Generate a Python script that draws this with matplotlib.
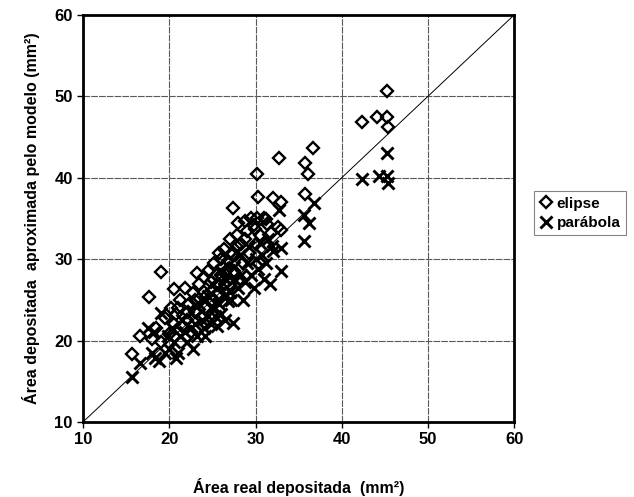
import numpy as np
import matplotlib.pyplot as plt

# Elipse model: (real area, modelled area) [mm^2]
elipse_x = [45.3, 42.3, 44.1, 45.3, 45.4, 36.7, 32.7, 35.7, 36.1, 30.2,
            30.3, 32.0, 32.9, 35.7, 27.4, 32.6, 33.0, 28.8, 30.2, 31.2,
            29.9, 19.0, 17.6, 16.6, 15.7, 23.2, 20.6,
            18.5, 19.5, 20.2, 20.8, 21.3, 21.8, 22.3, 22.0, 22.8, 23.5,
            24.0, 24.5, 24.8, 25.2, 25.5, 25.8, 26.0, 26.3, 26.8, 27.0,
            27.3, 27.8, 28.0, 28.3, 29.0, 29.5, 29.8, 30.5, 31.0, 31.3,
            31.8, 27.5, 26.5, 25.0, 24.2, 23.0, 21.5, 20.0, 19.0, 18.0,
            22.5, 23.8, 25.8, 27.0, 28.5, 29.2, 30.0, 26.2, 24.3, 22.2,
            20.5, 26.0, 27.8, 28.2, 25.5, 24.0, 23.0, 21.0, 26.8, 28.8]
elipse_y = [50.6, 46.9, 47.4, 47.5, 46.2, 43.6, 42.4, 41.8, 40.5, 40.4,
            37.6, 37.5, 37.0, 38.0, 36.3, 34.0, 33.6, 34.7, 35.1, 34.9,
            33.7, 28.4, 25.4, 20.5, 18.3, 28.3, 26.3,
            21.5, 22.8, 24.0, 23.2, 25.0, 26.5, 24.5, 22.5, 25.8, 27.0,
            26.0, 28.5, 27.2, 29.5, 26.8, 30.8, 28.0, 31.2, 29.8, 32.5,
            30.5, 33.0, 34.5, 31.8, 33.5, 35.0, 34.2, 33.0, 35.0, 34.3,
            33.2, 28.5, 27.0, 25.0, 24.0, 23.5, 21.8, 20.8, 19.8, 20.2,
            21.0, 22.8, 25.8, 27.0, 29.5, 30.8, 31.8, 29.0, 25.5, 23.5,
            22.0, 30.0, 31.5, 27.5, 28.0, 27.8, 25.0, 24.0, 28.8, 32.5]

# Parabola model
parabola_x = [45.3, 42.3, 44.3, 45.3, 45.4, 36.8, 35.6, 36.2, 35.6, 32.7,
              32.9, 33.0, 31.7, 31.9, 27.4, 15.7, 16.6, 18.4, 19.0, 17.5,
              18.0, 18.8, 19.5, 20.0, 20.5, 21.0, 21.2, 21.8, 22.0, 22.5,
              23.0, 23.2, 23.8, 24.0, 24.5, 24.8, 25.0, 25.3, 25.8, 26.0,
              26.3, 26.8, 27.0, 27.2, 27.5, 28.0, 28.3, 28.8, 29.0, 29.5,
              30.0, 30.3, 30.8, 31.2, 31.0, 29.8, 28.5, 26.5, 25.5, 24.2,
              22.8, 20.8, 19.8, 20.3, 21.5, 22.5, 23.5, 24.5, 25.5, 26.5,
              27.5, 28.2, 29.2, 30.5, 31.5, 32.0, 26.0, 25.0, 27.8, 18.2]
parabola_y = [43.0, 39.8, 40.2, 40.2, 39.3, 36.9, 35.4, 34.4, 32.2, 36.0,
              31.4, 28.6, 26.9, 31.6, 22.1, 15.5, 17.3, 17.9, 23.4, 21.6,
              18.5, 17.5, 18.5, 19.0, 19.8, 18.5, 20.5, 21.0, 19.8, 21.5,
              22.0, 20.5, 22.5, 21.5, 23.0, 22.0, 24.0, 23.0, 24.5, 23.2,
              25.5, 24.8, 26.0, 25.0, 27.5, 26.5, 28.0, 27.2, 29.5, 28.0,
              30.0, 28.8, 30.5, 29.5, 27.5, 26.5, 25.0, 22.5, 21.8, 20.5,
              19.0, 17.8, 20.5, 21.5, 22.5, 23.5, 24.5, 25.5, 26.5, 27.5,
              29.0, 30.5, 31.5, 32.0, 32.5, 31.0, 28.5, 27.0, 31.0, 21.0]

ticks = [10, 20, 30, 40, 50, 60]

plt.rcParams['font.family'] = ['Liberation Sans', 'DejaVu Sans']

fig = plt.figure(figsize=(6.34, 4.97), dpi=100)
ax = fig.add_axes([0.131, 0.151, 0.68, 0.819])

ax.plot(ticks, ticks, color='black', linewidth=0.7, zorder=2)
ax.plot(elipse_x, elipse_y, linestyle='none', marker='D', markersize=6.5,
        markerfacecolor='none', markeredgecolor='black', markeredgewidth=1.7,
        label='elipse', zorder=3)
ax.plot(parabola_x, parabola_y, linestyle='none', marker='x', markersize=8.5,
        color='black', markeredgewidth=2.1, label='parábola', zorder=3)

ax.set_xlim(10, 60)
ax.set_ylim(10, 60)
ax.set_xticks(ticks)
ax.set_yticks(ticks)
ax.grid(True, color='0.35', linewidth=0.8, linestyle=(0, (6, 1)))
ax.set_axisbelow(True)
for s in ax.spines.values():
    s.set_linewidth(2)
ax.tick_params(direction='out', length=4, width=1, labelsize=12)
for lab in ax.get_xticklabels() + ax.get_yticklabels():
    lab.set_fontweight('bold')

ax.set_xlabel('Área real depositada  (mm²)', fontsize=11.5, fontweight='bold',
              labelpad=22)
ax.set_ylabel('Área depositada  aproximada pelo modelo (mm²)', fontsize=11.5,
              fontweight='bold', labelpad=10)

leg = fig.legend(loc='upper left', bbox_to_anchor=(0.843, 0.615),
                 fontsize=11, frameon=True, fancybox=False,
                 handlelength=0.8, handletextpad=0.3, borderpad=0.35,
                 labelspacing=0.35, borderaxespad=0)
leg.get_frame().set_edgecolor('0.4')
leg.get_frame().set_linewidth(0.8)
for t in leg.get_texts():
    t.set_fontweight('bold')

fig.savefig('out.png', dpi=100)
